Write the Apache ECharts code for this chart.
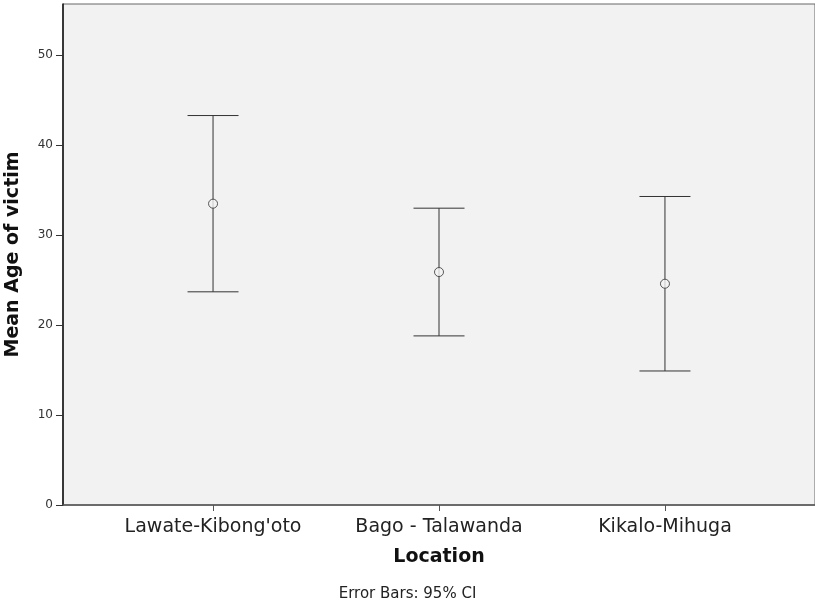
<!DOCTYPE html>
<html><head><meta charset="utf-8">
<script src="https://cdn.jsdelivr.net/npm/echarts@6/dist/echarts.min.js"></script>
<style>html,body{margin:0;padding:0;background:#fff}#c{width:815px;height:601px}</style>
</head><body><div id="c"></div>
<script>
const categories = ["Lawate-Kibong'oto", "Bago - Talawanda", "Kikalo-Mihuga"];
const means = [33.5, 25.9, 24.6];
const lower = [23.7, 18.8, 14.9];
const upper = [43.3, 33.0, 34.3];
const yTicks = [0, 10, 20, 30, 40, 50];

const chart = echarts.init(document.getElementById('c'), null, {renderer: 'canvas'});
const pos = categories.map((c, i) => i + 1);
const font = 'DejaVu Sans, sans-serif';
chart.setOption({
  animation: false,
  grid: {left: 63, right: 0, top: 4, bottom: 96, containLabel: false, outerBoundsMode: 'none',
         show: true, backgroundColor: '#f2f2f2', borderColor: '#666', borderWidth: 1},
  xAxis: {
    type: 'value', min: 0.336, max: 3.664,
    splitLine: {show: false},
    axisLine: {show: true, lineStyle: {color: '#555', width: 1.5}},
    axisTick: {show: true, customValues: pos, length: 6, lineStyle: {color: '#555'}},
    axisLabel: {customValues: pos, formatter: v => categories[Math.round(v) - 1] || '', fontSize: 19, color: '#222', fontFamily: font, margin: 13},
    name: 'Location', nameLocation: 'middle', nameGap: 43,
    nameTextStyle: {fontSize: 19, fontWeight: 'bold', color: '#111', fontFamily: font}
  },
  yAxis: {
    type: 'value', min: 0, max: 55.7, interval: 10,
    splitLine: {show: false},
    axisLine: {show: true, lineStyle: {color: '#111', width: 1.5}},
    axisTick: {show: true, customValues: yTicks, length: 7, lineStyle: {color: '#333'}},
    axisLabel: {customValues: yTicks, fontSize: 12, color: '#333', fontFamily: font, margin: 10},
    name: 'Mean Age of victim', nameLocation: 'middle', nameGap: 40, nameRotate: 90,
    nameTextStyle: {fontSize: 19, fontWeight: 'bold', color: '#111', fontFamily: font}
  },
  graphic: [{type: 'text', left: 'center', top: 587, style: {text: 'Error Bars: 95% CI', fontSize: 15, fill: '#222', fontFamily: font}}],
  series: [
    {
      type: 'custom',
      data: pos.map((p, i) => [p, lower[i], upper[i]]),
      renderItem: function (params, api) {
        const x = api.value(0);
        const lo = api.coord([x, api.value(1)]);
        const hi = api.coord([x, api.value(2)]);
        const hw = 25.5;
        const st = {stroke: '#333', lineWidth: 1};
        return {type: 'group', children: [
          {type: 'line', shape: {x1: lo[0], y1: lo[1], x2: hi[0], y2: hi[1]}, style: st},
          {type: 'line', shape: {x1: hi[0] - hw, y1: hi[1], x2: hi[0] + hw, y2: hi[1]}, style: st},
          {type: 'line', shape: {x1: lo[0] - hw, y1: lo[1], x2: lo[0] + hw, y2: lo[1]}, style: st}
        ]};
      },
      z: 2
    },
    {
      type: 'scatter',
      data: pos.map((p, i) => [p, means[i]]),
      symbol: 'circle', symbolSize: 9,
      itemStyle: {color: '#f2f2f2', borderColor: '#333', borderWidth: 1},
      z: 3
    }
  ]
});
</script></body></html>
